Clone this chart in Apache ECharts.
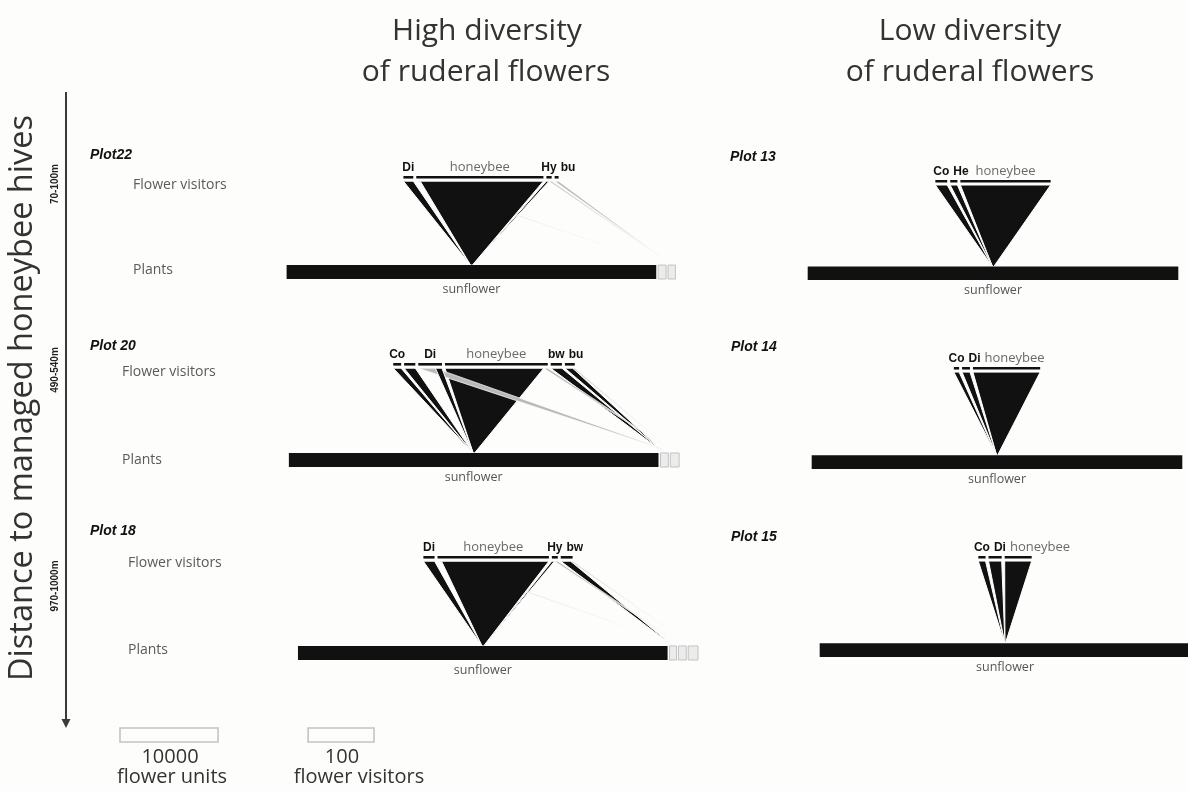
<!DOCTYPE html>
<html>
<head>
<meta charset="utf-8">
<title>Sunflower visitor webs</title>
<script src="https://cdn.jsdelivr.net/npm/echarts@6/dist/echarts.min.js"></script>
<style>
  html, body { margin: 0; padding: 0; background: #fdfdfb; }
  #chart { width: 1188px; height: 791px; }
</style>
</head>
<body>
<div id="chart"></div>
<script>
// ---------- data ----------
// Plant rows: flower units per plant species (unnamed entries are minor ruderal plants)
// Visitor links: [visitor index, plant index, number of visits]

// Plot 22 (high diversity, 70-100 m)
const plot22Plants = ['sunflower', '', ''];
const plot22FlowerUnits = [37700, 800, 750];
const plot22Visitors = ['Di', 'honeybee', 'Hy', 'bu'];
const plot22Links = [[0, 0, 15], [1, 1, 6], [1, 0, 187], [2, 0, 4], [2, 2, 4], [3, 2, 6]];

// Plot 20 (high diversity, 490-540 m)
const plot20Plants = ['sunflower', '', ''];
const plot20FlowerUnits = [37700, 800, 900];
const plot20Visitors = ['Co', '', 'Di', 'honeybee', 'bw', 'bu'];
const plot20Links = [[0, 0, 12], [1, 0, 17], [2, 2, 26], [2, 0, 10], [3, 0, 150], [3, 2, 6], [4, 1, 17], [5, 1, 12], [5, 2, 3]];

// Plot 18 (high diversity, 970-1000 m)
const plot18Plants = ['sunflower', '', '', ''];
const plot18FlowerUnits = [37700, 700, 800, 1000];
const plot18Visitors = ['Di', 'honeybee', 'Hy', 'bw'];
const plot18Links = [[0, 0, 17], [1, 2, 6], [1, 0, 163], [2, 0, 4], [2, 2, 5], [3, 1, 15], [3, 3, 3]];

// Plot 13 (low diversity, 70-100 m)
const plot13Plants = ['sunflower'];
const plot13FlowerUnits = [37800];
const plot13Visitors = ['Co', 'He', 'honeybee'];
const plot13Links = [[0, 0, 18], [1, 0, 11], [2, 0, 137]];

// Plot 14 (low diversity, 490-540 m)
const plot14Plants = ['sunflower'];
const plot14FlowerUnits = [37800];
const plot14Visitors = ['Co', 'Di', 'honeybee'];
const plot14Links = [[0, 0, 8], [1, 0, 12], [2, 0, 102]];

// Plot 15 (low diversity, 970-1000 m)
const plot15Plants = ['sunflower'];
const plot15FlowerUnits = [37800];
const plot15Visitors = ['Co', 'Di', 'honeybee'];
const plot15Links = [[0, 0, 11], [1, 0, 20], [2, 0, 41]];

// Scale bars
const scaleFlowerUnits = 10000;
const scaleVisitors = 100;

// ---------- layout & style ----------
const GRID_W = 340;             // every grid uses the same horizontal scale
const AXIS_HALF = 258;          // -258..258 visitor widths over 340 px
const FLOWER_W = 0.01488;       // one flower unit in visitor widths (10000 units ~ 148.8 visitors)
const VISITOR_GAP = 4.5;
const PLANT_GAP = 3;
const PLANT_TOP = 0.135;
const VBAR_BOTTOM = 0.975;
const LINK_TOP = 0.95;
const BLACK = '#111111';
const LIGHT = '#b9b9b9';

const panels = [
  { plants: plot22Plants, units: plot22FlowerUnits, visitors: plot22Visitors, links: plot22Links,
    cx: 481, top: 176, bottom: 279, linkColors: [BLACK, LIGHT, LIGHT] },
  { plants: plot20Plants, units: plot20FlowerUnits, visitors: plot20Visitors, links: plot20Links,
    cx: 484, top: 363, bottom: 467, linkColors: [BLACK, BLACK, LIGHT] },
  { plants: plot18Plants, units: plot18FlowerUnits, visitors: plot18Visitors, links: plot18Links,
    cx: 498, top: 556, bottom: 660, linkColors: [BLACK, BLACK, LIGHT, LIGHT] },
  { plants: plot13Plants, units: plot13FlowerUnits, visitors: plot13Visitors, links: plot13Links,
    cx: 993, top: 180, bottom: 280, linkColors: [BLACK] },
  { plants: plot14Plants, units: plot14FlowerUnits, visitors: plot14Visitors, links: plot14Links,
    cx: 997, top: 367, bottom: 469, linkColors: [BLACK] },
  { plants: plot15Plants, units: plot15FlowerUnits, visitors: plot15Visitors, links: plot15Links,
    cx: 1005, top: 556, bottom: 657, linkColors: [BLACK] }
];

const measureCtx = document.createElement('canvas').getContext('2d');
function textWidth(text, font) {
  measureCtx.font = font;
  return measureCtx.measureText(text).width;
}

function sum(a) { return a.reduce((s, v) => s + v, 0); }

// Positions of bars and link ends in axis units
function layoutPanel(panel) {
  const nV = panel.visitors.length;
  const nP = panel.plants.length;
  const vTotal = new Array(nV).fill(0);
  const lowTotal = new Array(nP).fill(0);
  panel.links.forEach(([v, p, n]) => { vTotal[v] += n; lowTotal[p] += n * FLOWER_W; });

  const rowV = sum(vTotal) + VISITOR_GAP * (nV - 1);
  const vStart = [];
  let c = -rowV / 2;
  for (let i = 0; i < nV; i++) { vStart.push(c); c += vTotal[i] + VISITOR_GAP; }

  const pW = panel.units.map(u => u * FLOWER_W);
  const rowP = sum(pW) + PLANT_GAP * (nP - 1);
  const pStart = [];
  c = -rowP / 2;
  for (let i = 0; i < nP; i++) { pStart.push(c); c += pW[i] + PLANT_GAP; }

  const vCursor = vStart.slice();
  const pCursor = pStart.map((s, i) => s + pW[i] / 2 - lowTotal[i] / 2);
  const geo = panel.links.map(([v, p, n]) => {
    const t0 = vCursor[v]; vCursor[v] += n;
    const b0 = pCursor[p]; pCursor[p] += n * FLOWER_W;
    return { v, p, t0, t1: t0 + n, b0, b1: b0 + n * FLOWER_W };
  });
  return { vStart, vTotal, pStart, pW, geo };
}

function panelRenderer(panel) {
  const lay = layoutPanel(panel);
  return function (params, api) {
    const pt = (x, y) => api.coord([x, y]);
    const rect = (x0, x1, y0, y1) => {
      const a = pt(x0, y1), b = pt(x1, y0);
      return { x: a[0], y: a[1], width: b[0] - a[0], height: b[1] - a[1] };
    };
    const children = [];

    // links, right-hand visitors first so left ones lie on top
    for (let v = panel.visitors.length - 1; v >= 0; v--) {
      lay.geo.filter(g => g.v === v).forEach(g => {
        const light = panel.linkColors[g.p] !== BLACK;
        children.push({
          type: 'polygon',
          shape: { points: [pt(g.t0, LINK_TOP), pt(g.t1, LINK_TOP), pt(g.b1, PLANT_TOP), pt(g.b0, PLANT_TOP)] },
          style: { fill: panel.linkColors[g.p], stroke: '#ffffff', lineWidth: light ? 0.7 : 1 }
        });
      });
    }

    // plant bars
    panel.plants.forEach((name, i) => {
      const main = i === 0;
      children.push({
        type: 'rect',
        shape: rect(lay.pStart[i], lay.pStart[i] + lay.pW[i], 0, PLANT_TOP),
        style: main ? { fill: BLACK } : { fill: '#ececec', stroke: '#c2c2c2', lineWidth: 1 }
      });
      if (name) {
        const c = pt(lay.pStart[i] + lay.pW[i] / 2, 0);
        children.push({
          type: 'text',
          style: { text: name, x: c[0], y: c[1] + 4, align: 'center', verticalAlign: 'top',
                   fontFamily: '"Open Sans"', fontSize: 12.5, fill: '#555555' }
        });
      }
    });

    // visitor bars and their names (shifted right when they would overlap)
    let lastRight = -Infinity;
    panel.visitors.forEach((name, i) => {
      children.push({
        type: 'rect',
        shape: rect(lay.vStart[i], lay.vStart[i] + lay.vTotal[i], VBAR_BOTTOM, 1),
        style: { fill: BLACK }
      });
      if (!name) return;
      const long = name.length > 3;
      const font = long ? '13px "Open Sans"' : 'bold 12px "Liberation Sans"';
      const w = textWidth(name, font);
      const c = pt(lay.vStart[i] + lay.vTotal[i] / 2, 1);
      let left = c[0] - w / 2;
      if (left < lastRight + 4) left = lastRight + 4;
      lastRight = left + w;
      children.push({
        type: 'text',
        style: {
          text: name, x: left, y: c[1] - 2, align: 'left', verticalAlign: 'bottom',
          fontFamily: long ? '"Open Sans"' : '"Liberation Sans"',
          fontWeight: long ? 'normal' : 'bold',
          fontSize: long ? 13 : 12,
          fill: long ? '#6a6a6a' : '#111111'
        }
      });
    });

    return { type: 'group', children };
  };
}

// scale bars share the panels' horizontal scale
function scaleRenderer(params, api) {
  const box = (x0, w) => {
    const a = api.coord([x0, 1]), b = api.coord([x0 + w, 0]);
    return { type: 'rect', shape: { x: a[0], y: a[1], width: b[0] - a[0], height: b[1] - a[1] },
             style: { fill: 'none', stroke: '#c4c4c4', lineWidth: 1.6 } };
  };
  return { type: 'group', children: [
    box(0, scaleFlowerUnits * FLOWER_W),
    box(285.5, scaleVisitors)
  ] };
}

const grids = [], xAxes = [], yAxes = [], series = [];
panels.forEach((panel, i) => {
  grids.push({ left: panel.cx - GRID_W / 2, top: panel.top, width: GRID_W, height: panel.bottom - panel.top });
  xAxes.push({ type: 'value', gridIndex: i, min: -AXIS_HALF, max: AXIS_HALF, show: false });
  yAxes.push({ type: 'value', gridIndex: i, min: 0, max: 1, show: false });
  series.push({ type: 'custom', xAxisIndex: i, yAxisIndex: i, data: [[0, 0]], silent: true,
                renderItem: panelRenderer(panel) });
});
const si = panels.length;
grids.push({ left: 120, top: 728, width: GRID_W, height: 14 });
xAxes.push({ type: 'value', gridIndex: si, min: 0, max: 2 * AXIS_HALF, show: false });
yAxes.push({ type: 'value', gridIndex: si, min: 0, max: 1, show: false });
series.push({ type: 'custom', xAxisIndex: si, yAxisIndex: si, data: [[0, 0]], silent: true, renderItem: scaleRenderer });

// ---------- surrounding text ----------
function txt(text, x, y, opts) {
  return Object.assign({
    type: 'text', x, y, silent: true,
    style: Object.assign({ text, align: 'center', verticalAlign: 'middle', fontFamily: '"Open Sans"',
                           fontSize: 13, fill: '#555555' }, opts.style || {})
  }, opts.rotation ? { rotation: opts.rotation } : {});
}
const plotLabel = { fontFamily: '"Liberation Sans"', fontWeight: 'bold', fontStyle: 'italic', fontSize: 14, fill: '#111111', align: 'left' };
const titleStyle = { fontSize: 30, fill: '#333333' };
const rangeStyle = { fontFamily: '"Liberation Sans"', fontWeight: 'bold', fontSize: 10, fill: '#222222' };
const rowStyle = { fontSize: 14, fill: '#5a5a5a', align: 'left' };
const scaleStyle = { fontSize: 20, fill: '#333333' };

const graphic = [
  txt('High diversity', 487, 31, { style: titleStyle }),
  txt('of ruderal flowers', 486, 72, { style: titleStyle }),
  txt('Low diversity', 970, 31, { style: titleStyle }),
  txt('of ruderal flowers', 970, 72, { style: titleStyle }),

  txt('Distance to managed honeybee hives', 23, 398, { rotation: Math.PI / 2, style: { fontSize: 32.5, fill: '#333333' } }),
  txt('70-100m', 55, 184, { rotation: Math.PI / 2, style: rangeStyle }),
  txt('490-540m', 55, 370, { rotation: Math.PI / 2, style: rangeStyle }),
  txt('970-1000m', 55, 586, { rotation: Math.PI / 2, style: rangeStyle }),
  { type: 'line', silent: true, shape: { x1: 66, y1: 92, x2: 66, y2: 722 }, style: { stroke: '#3a3a3a', lineWidth: 2 } },
  { type: 'polygon', silent: true, shape: { points: [[61.5, 719], [70.5, 719], [66, 728]] }, style: { fill: '#3a3a3a' } },

  txt('Plot22', 90, 155, { style: plotLabel }),
  txt('Plot 20', 90, 346, { style: plotLabel }),
  txt('Plot 18', 90, 531, { style: plotLabel }),
  txt('Plot 13', 730, 157, { style: plotLabel }),
  txt('Plot 14', 731, 347, { style: plotLabel }),
  txt('Plot 15', 731, 537, { style: plotLabel }),

  txt('Flower visitors', 133, 185, { style: rowStyle }),
  txt('Plants', 133, 270, { style: rowStyle }),
  txt('Flower visitors', 122, 372, { style: rowStyle }),
  txt('Plants', 122, 460, { style: rowStyle }),
  txt('Flower visitors', 128, 563, { style: rowStyle }),
  txt('Plants', 128, 650, { style: rowStyle }),

  txt('10000', 170, 757, { style: scaleStyle }),
  txt('flower units', 172, 777, { style: scaleStyle }),
  txt('100', 342, 757, { style: scaleStyle }),
  txt('flower visitors', 359, 777, { style: scaleStyle })
];

const chart = echarts.init(document.getElementById('chart'), null, { renderer: 'canvas' });
chart.setOption({
  backgroundColor: '#fdfdfb',
  animation: false,
  grid: grids,
  xAxis: xAxes,
  yAxis: yAxes,
  series: series,
  graphic: graphic
});
</script>
</body>
</html>
